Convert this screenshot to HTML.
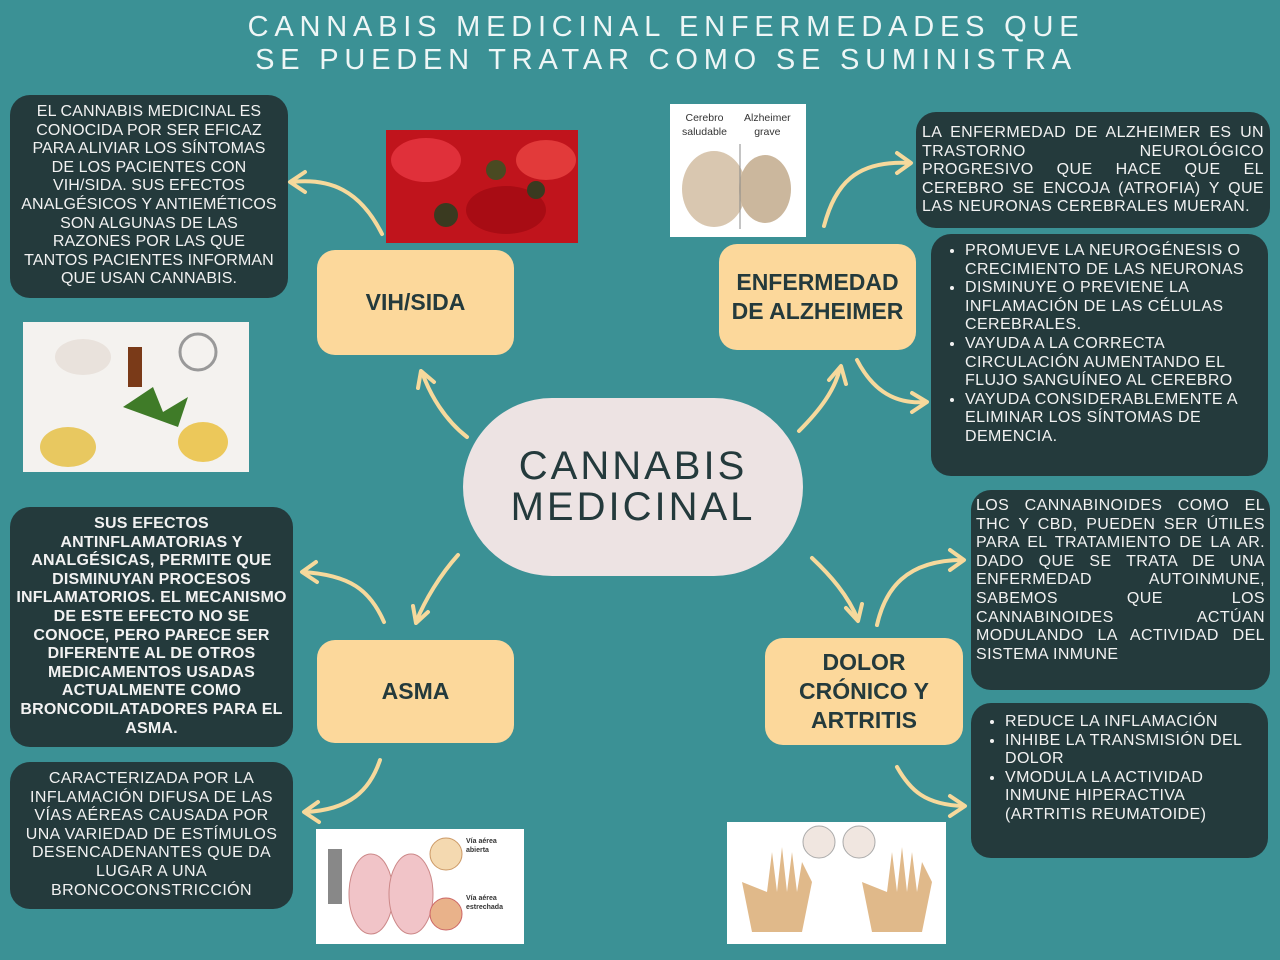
<!DOCTYPE html>
<html><head><meta charset="utf-8"><style>
*{margin:0;padding:0;box-sizing:border-box}
body{width:1280px;height:960px;background:#3b9195;position:relative;overflow:hidden;font-family:"Liberation Sans",sans-serif}
.t{position:absolute;left:26px;width:1280px;text-align:center;color:#eef6f6;font-size:29px;letter-spacing:5.8px}
.box{position:absolute;background:#243a3c;border-radius:20px;color:#f2f2f2;font-size:16px;line-height:18.6px;letter-spacing:0.4px}
.c{text-align:center}
.j{text-align:justify;text-align-last:left}
.node{position:absolute;background:#fcd89b;border-radius:18px;color:#243a3c;font-weight:bold;font-size:23px;display:flex;align-items:center;justify-content:center;text-align:center;line-height:29px}
ul{padding-left:34px}
.img{position:absolute;overflow:hidden}
</style></head><body>
<div class="t" style="top:11px">CANNABIS MEDICINAL ENFERMEDADES QUE</div>
<div class="t" style="top:44px">SE PUEDEN TRATAR COMO SE SUMINISTRA</div>

<div class="box c" style="left:10px;top:95px;width:278px;height:203px;padding:8px 9px;letter-spacing:0.1px">EL CANNABIS MEDICINAL ES CONOCIDA POR SER EFICAZ PARA ALIVIAR LOS SÍNTOMAS DE LOS PACIENTES CON VIH/SIDA. SUS EFECTOS ANALGÉSICOS Y ANTIEMÉTICOS SON ALGUNAS DE LAS RAZONES POR LAS QUE TANTOS PACIENTES INFORMAN QUE USAN CANNABIS.</div>

<div class="img" style="left:386px;top:130px;width:192px;height:113px;background:#c0141c">
<svg width="192" height="113"><ellipse cx="40" cy="30" rx="35" ry="22" fill="#e0303a"/><ellipse cx="120" cy="80" rx="40" ry="24" fill="#a80c14"/><ellipse cx="160" cy="30" rx="30" ry="20" fill="#e23a3a"/><circle cx="60" cy="85" r="12" fill="#3a3a20"/><circle cx="110" cy="40" r="10" fill="#4a4a22"/><circle cx="150" cy="60" r="9" fill="#3a3a20"/></svg></div>

<div class="img" style="left:23px;top:322px;width:226px;height:150px;background:#f4f2ef">
<svg width="226" height="150"><ellipse cx="60" cy="35" rx="28" ry="18" fill="#e9e2dc"/><path d="M100 85 l30 -20 l10 25 l25 -15 l-10 30 z" fill="#3f7b28"/><rect x="105" y="25" width="14" height="40" fill="#7a3a18"/><ellipse cx="45" cy="125" rx="28" ry="20" fill="#e8c860"/><ellipse cx="180" cy="120" rx="25" ry="20" fill="#ecc85a"/><circle cx="175" cy="30" r="18" fill="none" stroke="#999" stroke-width="3"/></svg></div>

<div class="node" style="left:317px;top:250px;width:197px;height:105px">VIH/SIDA</div>

<div style="position:absolute;left:463px;top:398px;width:340px;height:178px;border-radius:90px;background:#ede3e3;color:#243a3c;font-size:40px;letter-spacing:3px;line-height:41px;text-align:center;padding-top:48px">CANNABIS<br>MEDICINAL</div>

<div class="img" style="left:670px;top:104px;width:136px;height:133px;background:#fff">
<div style="position:absolute;left:12px;top:7px;font-size:10.5px;color:#333;line-height:14px;text-align:center">Cerebro<br>saludable</div>
<div style="position:absolute;left:74px;top:7px;font-size:10.5px;color:#333;line-height:14px;text-align:center">Alzheimer<br>grave</div>
<svg width="136" height="133"><ellipse cx="44" cy="85" rx="32" ry="38" fill="#d9c7b0"/><ellipse cx="95" cy="85" rx="26" ry="34" fill="#cbb79d"/><line x1="70" y1="40" x2="70" y2="125" stroke="#888"/></svg></div>

<div class="node" style="left:719px;top:244px;width:197px;height:106px">ENFERMEDAD<br>DE ALZHEIMER</div>

<div class="box j" style="left:916px;top:112px;width:354px;height:116px;padding:12px 6px 0 6px">LA ENFERMEDAD DE ALZHEIMER ES UN TRASTORNO NEUROLÓGICO PROGRESIVO QUE HACE QUE EL CEREBRO SE ENCOJA (ATROFIA) Y QUE LAS NEURONAS CEREBRALES MUERAN.</div>

<div class="box" style="left:931px;top:234px;width:337px;height:242px;padding:8px 14px 0 0"><ul>
<li>PROMUEVE LA NEUROGÉNESIS O CRECIMIENTO DE LAS NEURONAS</li>
<li>DISMINUYE O PREVIENE LA INFLAMACIÓN DE LAS CÉLULAS CEREBRALES.</li>
<li>VAYUDA A LA CORRECTA CIRCULACIÓN AUMENTANDO EL FLUJO SANGUÍNEO AL CEREBRO</li>
<li>VAYUDA CONSIDERABLEMENTE A ELIMINAR LOS SÍNTOMAS DE DEMENCIA.</li></ul></div>

<div class="box c" style="left:10px;top:507px;width:283px;height:240px;padding:8px 5px;font-weight:bold;letter-spacing:0.2px">SUS EFECTOS ANTINFLAMATORIAS Y ANALGÉSICAS, PERMITE QUE DISMINUYAN PROCESOS INFLAMATORIOS. EL MECANISMO DE ESTE EFECTO NO SE CONOCE, PERO PARECE SER DIFERENTE AL DE OTROS MEDICAMENTOS USADAS ACTUALMENTE COMO BRONCODILATADORES PARA EL ASMA.</div>

<div class="node" style="left:317px;top:640px;width:197px;height:103px">ASMA</div>

<div class="box c" style="left:10px;top:762px;width:283px;height:147px;padding:8px 8px">CARACTERIZADA POR LA INFLAMACIÓN DIFUSA DE LAS VÍAS AÉREAS CAUSADA POR UNA VARIEDAD DE ESTÍMULOS DESENCADENANTES QUE DA LUGAR A UNA BRONCOCONSTRICCIÓN</div>

<div class="img" style="left:316px;top:829px;width:208px;height:115px;background:#fff">
<svg width="208" height="115"><ellipse cx="55" cy="65" rx="22" ry="40" fill="#f1c4c8" stroke="#c88"/><ellipse cx="95" cy="65" rx="22" ry="40" fill="#f1c4c8" stroke="#c88"/><circle cx="130" cy="25" r="16" fill="#f4d9b0" stroke="#c96"/><circle cx="130" cy="85" r="16" fill="#e9b28a" stroke="#c66"/><rect x="12" y="20" width="14" height="55" fill="#888"/></svg>
<div style="position:absolute;left:150px;top:8px;font-size:7px;color:#333;font-weight:bold;line-height:9px">Vía aérea<br>abierta</div>
<div style="position:absolute;left:150px;top:65px;font-size:7px;color:#333;font-weight:bold;line-height:9px">Vía aérea<br>estrechada</div></div>

<div class="node" style="left:765px;top:638px;width:198px;height:107px">DOLOR<br>CRÓNICO Y<br>ARTRITIS</div>

<div class="box j" style="left:971px;top:490px;width:299px;height:200px;padding:7px 5px 0 5px">LOS CANNABINOIDES COMO EL THC Y CBD, PUEDEN SER ÚTILES PARA EL TRATAMIENTO DE LA AR. DADO QUE SE TRATA DE UNA ENFERMEDAD AUTOINMUNE, SABEMOS QUE LOS CANNABINOIDES ACTÚAN MODULANDO LA ACTIVIDAD DEL SISTEMA INMUNE</div>

<div class="box" style="left:971px;top:703px;width:297px;height:155px;padding:10px 14px 0 0"><ul>
<li>REDUCE LA INFLAMACIÓN</li>
<li>INHIBE LA TRANSMISIÓN DEL DOLOR</li>
<li>VMODULA LA ACTIVIDAD INMUNE HIPERACTIVA (ARTRITIS REUMATOIDE)</li></ul></div>

<div class="img" style="left:727px;top:822px;width:219px;height:122px;background:#fff">
<svg width="219" height="122"><path d="M15 60 l10 50 h50 l10 -50 l-10 -20 l-5 30 l-5 -40 l-5 40 l-5 -45 l-5 45 l-5 -40 l-5 40 z" fill="#e0b98a"/><path d="M135 60 l10 50 h50 l10 -50 l-10 -20 l-5 30 l-5 -40 l-5 40 l-5 -45 l-5 45 l-5 -40 l-5 40 z" fill="#e0b98a"/><circle cx="92" cy="20" r="16" fill="#f0e6e0" stroke="#aaa"/><circle cx="132" cy="20" r="16" fill="#f0e6e0" stroke="#aaa"/></svg></div>

<svg style="position:absolute;left:0;top:0" width="1280" height="960" fill="none" stroke="#f6d99c" stroke-width="4" stroke-linecap="round" stroke-linejoin="round">
<path d="M382 234 C360 190 330 178 292 182"/><path d="M305 172 L290 182 L305 192"/>
<path d="M467 437 C445 420 430 395 422 372"/><path d="M418 388 L421 371 L434 382"/>
<path d="M799 431 C820 410 835 390 840 368"/><path d="M829 380 L841 366 L846 384"/>
<path d="M824 226 C835 185 855 160 910 163"/><path d="M897 153 L911 163 L897 173"/>
<path d="M857 360 C870 385 890 405 926 402"/><path d="M912 393 L927 402 L912 412"/>
<path d="M384 622 C370 590 350 575 303 572"/><path d="M316 562 L302 572 L317 582"/>
<path d="M458 555 C440 575 425 600 416 622"/><path d="M413 606 L416 623 L428 612"/>
<path d="M812 558 C830 575 848 595 858 620"/><path d="M846 608 L858 621 L862 604"/>
<path d="M877 625 C885 590 905 560 963 560"/><path d="M950 550 L964 560 L950 570"/>
<path d="M380 760 C370 790 350 810 305 812"/><path d="M318 802 L304 812 L319 822"/>
<path d="M897 767 C910 790 925 805 964 806"/><path d="M950 796 L965 806 L950 816"/>
</svg>
</body></html>
